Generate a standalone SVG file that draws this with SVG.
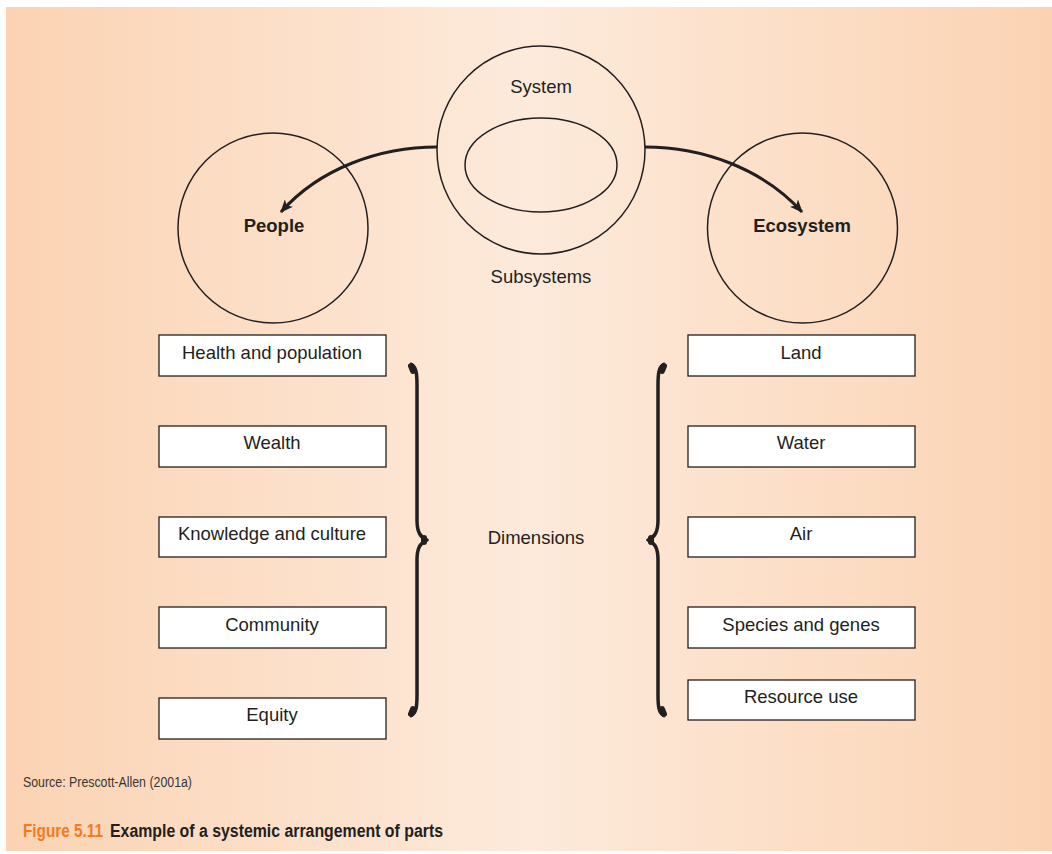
<svg xmlns="http://www.w3.org/2000/svg" width="1052" height="854" viewBox="0 0 1052 854">
<defs>
<linearGradient id="bg" x1="0" y1="0" x2="1" y2="0">
<stop offset="0" stop-color="#FBD3B3"/>
<stop offset="0.5" stop-color="#FDEADB"/>
<stop offset="1" stop-color="#FBD3B3"/>
</linearGradient>
<marker id="ah" viewBox="0 0 12 10" refX="11" refY="5" markerWidth="13" markerHeight="11" markerUnits="userSpaceOnUse" orient="auto">
<path d="M0,0 L12,5 L0,10 L3,5 Z" fill="#231f20"/>
</marker>
<style>
.ln{fill:none;stroke:#231f20;stroke-width:1.5}
.box{fill:#fff;stroke:#231f20;stroke-width:1.3}
.t{font-family:"Liberation Sans",Arial,sans-serif;font-size:18.5px;fill:#231f20;text-anchor:middle}
.b{font-weight:bold}
.br{fill:none;stroke:#231f20;stroke-width:3.5;stroke-linejoin:round}
.bt{fill:none;stroke:#231f20;stroke-width:6;stroke-linecap:round}
.conn{fill:none;stroke:#231f20;stroke-width:3}
</style>
</defs>
<rect x="6" y="7" width="1046" height="844" fill="url(#bg)"/>

<g id="system">
<circle class="ln" cx="541" cy="150" r="104"/>
<ellipse class="ln" cx="541" cy="165" rx="76" ry="47"/>
<text class="t" x="541" y="93">System</text>
<text class="t" x="541" y="283">Subsystems</text>
</g>
<g id="people">
<circle class="ln" cx="273" cy="228" r="95"/>
<text class="t b" x="274" y="232">People</text>
</g>
<g id="ecosystem">
<circle class="ln" cx="802.5" cy="228" r="95"/>
<text class="t b" x="802" y="232">Ecosystem</text>
</g>

<g id="connectors">
<path class="conn" d="M437,147 C380,147 320,168 281,212" marker-end="url(#ah)"/>
<path class="conn" d="M645,147 C702,147 762,168 802,212" marker-end="url(#ah)"/>
</g>

<g id="people-dimensions">
<g id="health"><rect class="box" x="159" y="335" width="227" height="41"/><text class="t" x="272" y="359">Health and population</text></g>
<g id="wealth"><rect class="box" x="159" y="426" width="227" height="41"/><text class="t" x="272" y="449">Wealth</text></g>
<g id="knowledge"><rect class="box" x="159" y="517" width="227" height="40"/><text class="t" x="272" y="540">Knowledge and culture</text></g>
<g id="community"><rect class="box" x="159" y="607" width="227" height="41"/><text class="t" x="272" y="631">Community</text></g>
<g id="equity"><rect class="box" x="159" y="698" width="227" height="41"/><text class="t" x="272" y="721">Equity</text></g>
</g>

<g id="eco-dimensions">
<g id="land"><rect class="box" x="688" y="335" width="227" height="41"/><text class="t" x="801" y="359">Land</text></g>
<g id="water"><rect class="box" x="688" y="426" width="227" height="41"/><text class="t" x="801" y="449">Water</text></g>
<g id="air"><rect class="box" x="688" y="517" width="227" height="40"/><text class="t" x="801" y="540">Air</text></g>
<g id="species"><rect class="box" x="688" y="607" width="227" height="41"/><text class="t" x="801" y="631">Species and genes</text></g>
<g id="resource"><rect class="box" x="688" y="680" width="227" height="40"/><text class="t" x="801" y="703">Resource use</text></g>
</g>

<g id="braces">
<path class="br" d="M410,364 C416,366 417,372 417,385 L417,520 C417,532 420,537 427,540 C420,543 417,548 417,560 L417,695 C417,708 416,714 410,716"/>
<path class="bt" d="M411,366 L413,371 M411,714 L413,709 M424,538 L424,542"/>
<path class="br" d="M665,364 C659,366 658,372 658,385 L658,520 C658,532 655,537 648,540 C655,543 658,548 658,560 L658,695 C658,708 659,714 665,716"/>
<path class="bt" d="M664,366 L662,371 M664,714 L662,709 M651,538 L651,542"/>
</g>
<g id="dimensions"><text class="t" x="536" y="544">Dimensions</text></g>

<g id="caption">
<text x="23" y="787" font-family="'Liberation Sans',Arial,sans-serif" font-size="14" fill="#3a3536" textLength="169" lengthAdjust="spacingAndGlyphs">Source: Prescott-Allen (2001a)</text>
<text x="23" y="837" font-family="'Liberation Sans',Arial,sans-serif" font-size="18" font-weight="bold" fill="#F47B20" textLength="80" lengthAdjust="spacingAndGlyphs">Figure 5.11</text>
<text x="110" y="837" font-family="'Liberation Sans',Arial,sans-serif" font-size="18" font-weight="bold" fill="#231f20" textLength="333" lengthAdjust="spacingAndGlyphs">Example of a systemic arrangement of parts</text>
</g>
</svg>
